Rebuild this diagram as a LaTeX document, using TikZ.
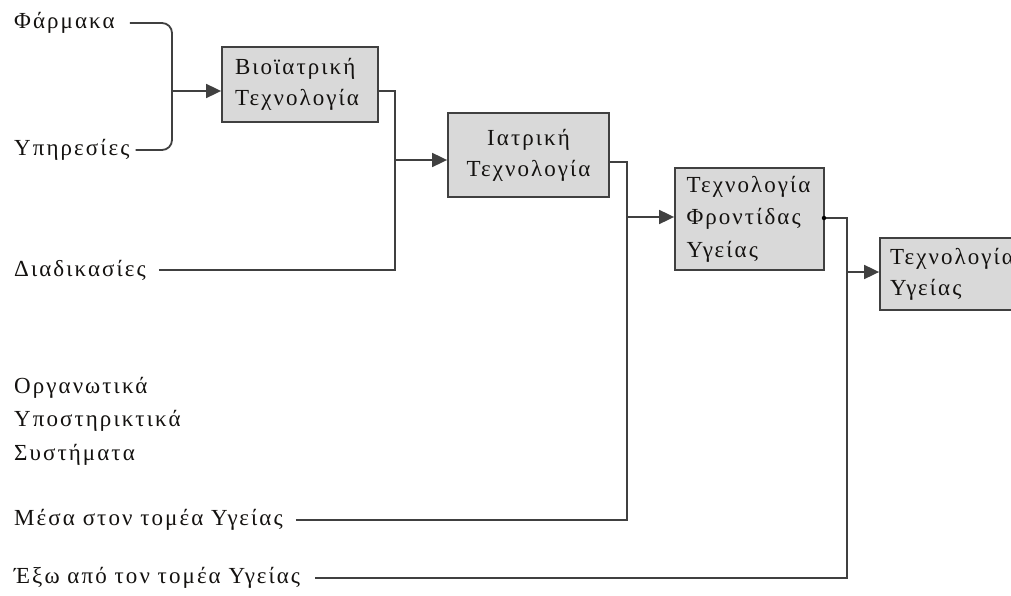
\documentclass[tikz,border=0pt]{standalone}
\usepackage{fontspec}
\setmainfont[LetterSpace=9]{Liberation Serif}
\usetikzlibrary{arrows.meta}
\definecolor{linec}{HTML}{404040}
\definecolor{boxfill}{HTML}{D9D9D9}
\definecolor{textc}{HTML}{141210}
\begin{document}
\begin{tikzpicture}[x=1pt,y=-1pt,
  every node/.style={text=textc, font=\fontsize{23}{33}\selectfont},
  lbl/.style={anchor=west, inner sep=0pt, align=left},
  box/.style={draw=linec, line width=1.8pt, fill=boxfill, inner xsep=0pt, inner ysep=0pt},
  conn/.style={draw=linec, line width=1.8pt},
  arr/.style={conn, -{Triangle[length=15pt,width=14pt]}},
  dotc/.style={circle, fill=black, inner sep=0pt, minimum size=4.5pt}
]
\useasboundingbox (0,0) rectangle (1011,596);
\fill[white] (0,0) rectangle (1011,596);
\begin{scope}
\clip (0,0) rectangle (1011,596);

% left labels
\node[lbl] (farm) at (14,23) {Φάρμακα};
\node[lbl] (ypir) at (14,150) {Υπηρεσίες};
\node[lbl] (diad) at (14,270) {Διαδικασίες};
\node[lbl, font=\fontsize{23}{33.5}\selectfont] (org) at (14,421) {Οργανωτικά\\Υποστηρικτικά\\Συστήματα};
\node[lbl] (mesa) at (14,520) {Μέσα στον τομέα Υγείας};
\node[lbl] (exo) at (14,578) {Έξω από τον τομέα Υγείας};

% boxes
\node[box, minimum width=156pt, minimum height=75pt, text width=130pt, align=left,
      font=\fontsize{23}{31}\selectfont] (b1) at (300,84.5) {Βιοϊατρική\\Τεχνολογία};
\node[box, minimum width=161pt, minimum height=84pt, text width=150pt, align=center,
      font=\fontsize{23}{31}\selectfont] (b2) at (528.5,155) {Ιατρική\\Τεχνολογία};
\node[box, minimum width=149pt, minimum height=102pt, text width=126pt, align=left,
      font=\fontsize{23}{32.5}\selectfont] (b3) at (749.5,219) {Τεχνολογία\\Φροντίδας\\Υγείας};
\node[box, minimum width=160pt, minimum height=72pt, text width=140pt, align=left,
      font=\fontsize{23}{31}\selectfont] (b4) at (960,274) {Τεχνολογία\\Υγείας};

% junction coordinates
\coordinate (j1) at (172,91);
\coordinate (j2) at (395,160);
\coordinate (j3) at (627,217);
\coordinate (j4) at (847,272);
\coordinate (o1) at (378,91);
\coordinate (o2) at (609,162);
\coordinate (o3) at (824,218);

% bracket
\draw[conn, rounded corners=10pt, shorten <=15pt] (farm.east) -| (j1);
\draw[conn, rounded corners=10pt, shorten <=6pt] (ypir.east) -| (j1);
\draw[arr] (j1) -- (b1.west |- j1);

% stage 1 -> 2
\draw[conn, shorten <=13pt] (diad.east) -| (j2) |- (o1);
\draw[arr] (j2) -- (b2.west |- j2);

% stage 2 -> 3
\draw[conn, shorten <=13pt] (mesa.east) -| (j3) |- (o2);
\draw[arr] (j3) -- (b3.west |- j3);

% stage 3 -> 4
\draw[conn, shorten <=15pt] (exo.east) -| (j4) |- (o3);
\node[dotc] (d3) at (o3) {};
\draw[arr] (j4) -- (b4.west |- j4);
\end{scope}
\end{tikzpicture}
\end{document}
